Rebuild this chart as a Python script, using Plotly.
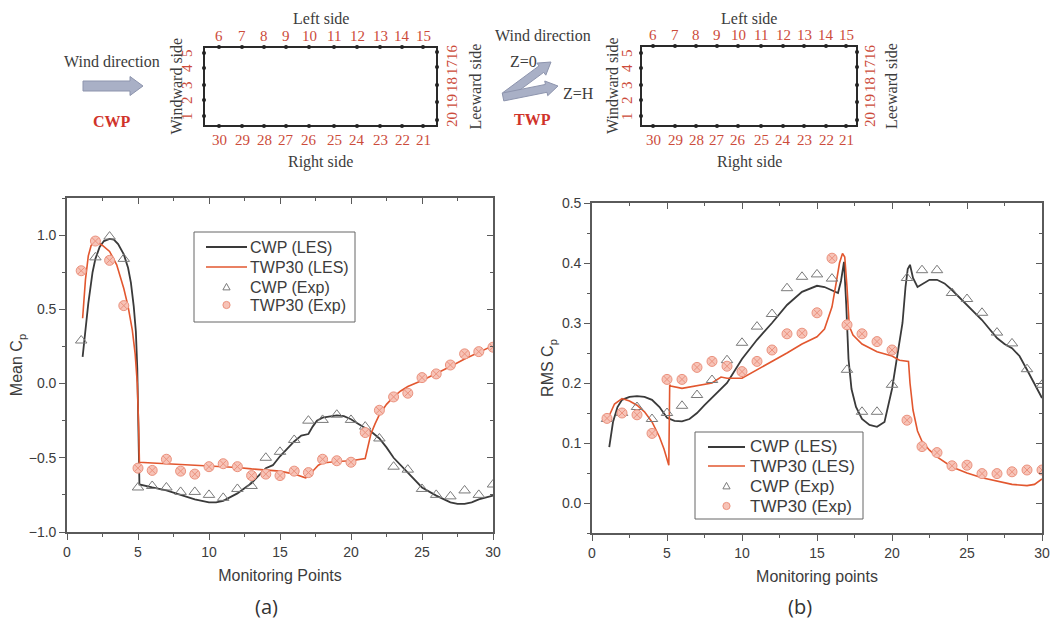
import math
import plotly.graph_objects as go

W, H = 1059, 625

# ---------------- data ----------------
pts = list(range(1, 31))

# (a) Mean Cp – experiments
cwp_exp_mean = [0.29, 0.85, 0.99, 0.84, -0.70, -0.69, -0.70, -0.73, -0.73, -0.75,
                -0.77, -0.71, -0.69, -0.50, -0.46, -0.38, -0.25, -0.245, -0.21, -0.245,
                -0.29, -0.37, -0.56, -0.58, -0.71, -0.75, -0.76, -0.72, -0.75, -0.68]
twp_exp_mean = [0.76, 0.96, 0.83, 0.525, -0.57, -0.585, -0.51, -0.59, -0.61, -0.56,
                -0.54, -0.56, -0.62, -0.61, -0.62, -0.59, -0.60, -0.51, -0.52, -0.53,
                -0.33, -0.18, -0.09, -0.065, 0.04, 0.065, 0.125, 0.20, 0.215, 0.245]

# (a) Mean Cp – LES
cwp_les_mean_x = [1.1, 1.3, 1.5, 1.8, 2.0, 2.3, 2.6, 3.0, 3.3, 3.6, 4.0, 4.3, 4.5, 4.7, 4.85,
                  4.95, 5.02, 5.1, 6, 7, 8, 9, 10, 10.5, 11, 12, 13, 13.5, 14, 14.5, 15,
                  15.5, 16, 16.5, 17, 17.3, 17.6, 18, 18.5, 19, 19.5, 20, 20.5, 21, 21.5,
                  22, 22.5, 23, 23.5, 24, 25, 26, 26.5, 27, 27.5, 28, 28.5, 29, 30]
cwp_les_mean_y = [0.18, 0.36, 0.54, 0.75, 0.84, 0.92, 0.96, 0.975, 0.97, 0.94, 0.87, 0.78,
                  0.68, 0.52, 0.35, 0.10, -0.40, -0.68, -0.70, -0.72, -0.75, -0.78, -0.80,
                  -0.80, -0.79, -0.74, -0.67, -0.62, -0.57, -0.55, -0.49, -0.44, -0.39,
                  -0.35, -0.34, -0.29, -0.25, -0.23, -0.22, -0.215, -0.22, -0.24, -0.27,
                  -0.30, -0.33, -0.37, -0.43, -0.50, -0.55, -0.60, -0.70, -0.755, -0.78,
                  -0.80, -0.81, -0.81, -0.80, -0.78, -0.755]
twp_les_mean_x = [1.1, 1.3, 1.5, 1.7, 1.9, 2.2, 2.5, 3.0, 3.5, 4.0, 4.3, 4.6, 4.8, 4.95,
                  5.05, 5.1, 6, 8, 10, 12, 13, 14, 15, 16, 16.5, 16.8, 17.1, 17.4, 17.7,
                  18, 19, 20, 21, 21.2, 21.4, 21.7, 22, 22.5, 23, 23.5, 24, 25, 26, 27,
                  28, 29, 29.5, 30]
twp_les_mean_y = [0.44, 0.70, 0.86, 0.93, 0.95, 0.95, 0.93, 0.89, 0.80, 0.64, 0.52, 0.36,
                  0.20, 0.00, -0.30, -0.53, -0.535, -0.545, -0.55, -0.565, -0.575, -0.58,
                  -0.59, -0.61, -0.625, -0.635, -0.62, -0.58, -0.55, -0.535, -0.525,
                  -0.52, -0.505, -0.42, -0.34, -0.27, -0.21, -0.14, -0.09, -0.05, -0.02,
                  0.02, 0.065, 0.115, 0.165, 0.21, 0.235, 0.255]

# (b) RMS Cp – experiments
cwp_exp_rms = [0.14, 0.15, 0.16, 0.14, 0.15, 0.162, 0.18, 0.205, 0.238, 0.267,
               0.294, 0.315, 0.358, 0.377, 0.381, 0.374, 0.222, 0.152, 0.152, 0.197,
               0.375, 0.388, 0.388, 0.35, 0.34, 0.317, 0.284, 0.266, 0.223, 0.197]
twp_exp_rms = [0.141, 0.15, 0.147, 0.116, 0.206, 0.206, 0.226, 0.236, 0.228, 0.219,
               0.236, 0.255, 0.282, 0.283, 0.317, 0.408, 0.297, 0.282, 0.269, 0.255,
               0.138, 0.094, 0.084, 0.062, 0.063, 0.049, 0.049, 0.052, 0.055, 0.055]

# (b) RMS Cp – LES
cwp_les_rms_x = [1.15, 1.4, 1.7, 2.0, 2.5, 3.0, 3.5, 4.0, 4.5, 5.0, 5.5, 6.0, 6.5, 7, 7.5,
                 8, 8.5, 9, 10, 11, 12, 13, 14, 14.5, 15, 15.5, 16, 16.4, 16.6, 16.8,
                 16.95, 17.1, 17.3, 17.6, 18, 18.5, 19, 19.5, 20, 20.4, 20.7, 20.9, 21.05,
                 21.2, 21.4, 21.7, 22, 22.5, 23, 23.5, 24, 25, 26, 27, 27.5, 28, 28.5, 29,
                 29.5, 30]
cwp_les_rms_y = [0.093, 0.135, 0.16, 0.172, 0.177, 0.178, 0.177, 0.172, 0.16, 0.142, 0.137,
                 0.136, 0.14, 0.15, 0.163, 0.175, 0.187, 0.2, 0.24, 0.272, 0.30, 0.33,
                 0.352, 0.357, 0.362, 0.36, 0.355, 0.35, 0.37, 0.402, 0.33, 0.24, 0.19,
                 0.16, 0.14, 0.13, 0.127, 0.135, 0.19, 0.25, 0.30, 0.36, 0.39, 0.397,
                 0.375, 0.36, 0.365, 0.372, 0.372, 0.366, 0.355, 0.33, 0.305, 0.275,
                 0.265, 0.258, 0.245, 0.222, 0.198, 0.175]
twp_les_rms_x = [1.05, 1.5, 2.0, 2.5, 3.0, 3.5, 4.0, 4.5, 4.8, 5.0, 5.12, 5.18, 5.25, 6, 7,
                 8, 8.6, 9, 10, 11, 12, 13, 14, 15, 15.5, 16, 16.3, 16.5, 16.7, 16.85,
                 17.0, 17.15, 17.4, 18, 19, 20, 20.5, 21.0, 21.1, 21.2, 21.4, 21.7, 22,
                 22.5, 23, 24, 25, 26, 27, 28, 29, 29.5, 30]
twp_les_rms_y = [0.14, 0.165, 0.174, 0.17, 0.163, 0.152, 0.135, 0.11, 0.09, 0.072, 0.063,
                 0.197, 0.195, 0.191, 0.195, 0.20, 0.21, 0.208, 0.208, 0.222, 0.235, 0.25,
                 0.265, 0.277, 0.29, 0.327, 0.37, 0.40, 0.416, 0.41, 0.36, 0.295, 0.28,
                 0.265, 0.252, 0.245, 0.238, 0.236, 0.236, 0.20, 0.155, 0.12, 0.103,
                 0.088, 0.077, 0.06, 0.05, 0.042, 0.036, 0.031, 0.029, 0.031, 0.04]

series_names = ["CWP (LES)", "TWP30 (LES)", "CWP (Exp)", "TWP30 (Exp)"]

# diagram labels
top_nums = ["6", "7", "8", "9", "10", "11", "12", "13", "14", "15"]
bottom_nums = ["30", "29", "28", "27", "26", "25", "24", "23", "22", "21"]
left_nums = ["1", "2", "3", "4", "5"]
right_nums = ["20", "19", "18", "17", "16"]

# ---------------- styles ----------------
BLACK_LINE = "#3a3a3a"
RED_LINE = "#e2572f"
TRI_COL = "#7a7a7a"
CIRC_FILL = "#f7c3b7"
CIRC_LINE = "#eb927e"
AX_COL = "#5a5a5a"
TXT_COL = "#3c3c3c"
NUM_RED = "#cc4b3a"
SANS = "Liberation Sans, Arial, sans-serif"
SERIF = "Liberation Serif, Times New Roman, serif"

fig = go.Figure()


def add_panel(xa, ya, les_c, les_t, exp_c, exp_t):
    fig.add_trace(go.Scatter(x=les_c[0], y=les_c[1], mode="lines", name=series_names[0],
                             line=dict(color=BLACK_LINE, width=1.8), xaxis=xa, yaxis=ya,
                             showlegend=False))
    fig.add_trace(go.Scatter(x=les_t[0], y=les_t[1], mode="lines", name=series_names[1],
                             line=dict(color=RED_LINE, width=1.6), xaxis=xa, yaxis=ya,
                             showlegend=False))
    fig.add_trace(go.Scatter(x=pts, y=exp_c, mode="markers", name=series_names[2],
                             marker=dict(symbol="triangle-up-open", size=10, color=TRI_COL,
                                         line=dict(width=1, color=TRI_COL)),
                             xaxis=xa, yaxis=ya, showlegend=False))
    fig.add_trace(go.Scatter(x=pts, y=exp_t, mode="markers", name=series_names[3],
                             marker=dict(symbol="circle-x", size=10, color=CIRC_FILL,
                                         line=dict(width=1, color=CIRC_LINE)),
                             xaxis=xa, yaxis=ya, showlegend=False))


add_panel("x", "y", (cwp_les_mean_x, cwp_les_mean_y), (twp_les_mean_x, twp_les_mean_y),
          cwp_exp_mean, twp_exp_mean)
add_panel("x2", "y2", (cwp_les_rms_x, cwp_les_rms_y), (twp_les_rms_x, twp_les_rms_y),
          cwp_exp_rms, twp_exp_rms)

# dummy traces for mirrored (inside) tick axes
for xa, ya in (("x3", "y3"), ("x4", "y4")):
    fig.add_trace(go.Scatter(x=[None], y=[None], xaxis=xa, yaxis=ya, showlegend=False,
                             hoverinfo="skip"))


def px(x):
    return x / W


def py(y):
    return 1 - y / H


# plot domains (pixels)
A_L, A_R, A_T, A_B = 67, 493, 198, 532
B_L, B_R, B_T, B_B = 592, 1042, 203, 533

tickfont = dict(family=SANS, size=14, color=TXT_COL)
titlefont = dict(family=SANS, size=16, color=TXT_COL)


def base_axis(dom, rng, dtick, mdtick, title, anchor):
    return dict(domain=dom, range=rng, dtick=dtick, tick0=0, anchor=anchor, automargin=False,
                showline=True, linecolor=AX_COL, linewidth=1.6, ticks="outside",
                ticklen=6, tickwidth=1.4, tickcolor=AX_COL, showgrid=False, zeroline=False,
                tickfont=tickfont, title=dict(text=title, font=titlefont),
                minor=dict(dtick=mdtick, tick0=0, ticks="outside", ticklen=3,
                           tickcolor=AX_COL, tickwidth=1.2),
                fixedrange=True)


def mirror_axis(dom, rng, dtick, mdtick, over, side, anchor):
    return dict(domain=dom, range=rng, dtick=dtick, tick0=0, overlaying=over, side=side,
                anchor=anchor, automargin=False, showline=True, linecolor=AX_COL,
                linewidth=1.6, ticks="inside", ticklen=6, tickwidth=1.4, tickcolor=AX_COL,
                showticklabels=False, showgrid=False, zeroline=False,
                minor=dict(dtick=mdtick, tick0=0, ticks="inside", ticklen=3,
                           tickcolor=AX_COL, tickwidth=1.2),
                fixedrange=True)


xa_dom = [px(A_L), px(A_R)]
ya_dom = [py(A_B), py(A_T)]
xb_dom = [px(B_L), px(B_R)]
yb_dom = [py(B_B), py(B_T)]

fig.update_layout(
    xaxis=base_axis(xa_dom, [0, 30], 5, 2.5, "Monitoring Points", "y"),
    yaxis=base_axis(ya_dom, [-1.0, 1.25], 0.5, 0.25, "Mean C<sub>p</sub>", "x"),
    xaxis2=base_axis(xb_dom, [0, 30], 5, 2.5, "Monitoring points", "y2"),
    yaxis2=base_axis(yb_dom, [-0.05, 0.5], 0.1, 0.05, "RMS C<sub>p</sub>", "x2"),
    xaxis3=mirror_axis(xa_dom, [0, 30], 5, 2.5, "x", "top", "y3"),
    yaxis3=mirror_axis(ya_dom, [-1.0, 1.25], 0.5, 0.25, "y", "right", "x3"),
    xaxis4=mirror_axis(xb_dom, [0, 30], 5, 2.5, "x2", "top", "y4"),
    yaxis4=mirror_axis(yb_dom, [-0.05, 0.5], 0.1, 0.05, "y2", "right", "x4"),
)
fig.layout.yaxis.tickformat = ".1f"
fig.layout.yaxis2.tickformat = ".1f"
fig.layout.xaxis.title.standoff = 11
fig.layout.xaxis2.title.standoff = 11
fig.layout.yaxis.title.standoff = 2
fig.layout.yaxis2.title.standoff = 4

shapes = []
annots = []


def text(x, y, s, size=16, color=TXT_COL, family=SERIF, angle=0, bold=False, anchor="center"):
    if bold:
        s = "<b>" + s + "</b>"
    annots.append(dict(x=px(x), y=py(y), xref="paper", yref="paper", text=s, showarrow=False,
                       xanchor=anchor, yanchor="middle", textangle=angle,
                       font=dict(family=family, size=size, color=color)))


def dot(x, y, r, fill, line_col=None, lw=0):
    shapes.append(dict(type="circle", xref="paper", yref="paper", x0=px(x - r),
                       x1=px(x + r), y0=py(y + r), y1=py(y - r), fillcolor=fill,
                       line=dict(width=lw, color=line_col or fill)))


def poly(points, fill, line_col, lw=1):
    path = "M " + " L ".join(f"{px(a):.5f},{py(b):.5f}" for a, b in points) + " Z"
    shapes.append(dict(type="path", path=path, xref="paper", yref="paper",
                       fillcolor=fill, line=dict(color=line_col, width=lw)))


def block_arrow(x0, y0, x1, y1, shaft=9, head=18, headlen=13):
    dx, dy = x1 - x0, y1 - y0
    L = math.hypot(dx, dy)
    ux, uy = dx / L, dy / L
    nx, ny = -uy, ux
    bx, by = x1 - ux * headlen, y1 - uy * headlen
    p = [(x0 + nx * shaft / 2, y0 + ny * shaft / 2), (bx + nx * shaft / 2, by + ny * shaft / 2),
         (bx + nx * head / 2, by + ny * head / 2), (x1, y1),
         (bx - nx * head / 2, by - ny * head / 2), (bx - nx * shaft / 2, by - ny * shaft / 2),
         (x0 - nx * shaft / 2, y0 - ny * shaft / 2)]
    poly(p, "#a9b0c6", "#8d94ad")


def building(left, right, top, bottom, top_x, left_y, right_y, num_left_x, num_right_x,
             side_left_x, side_right_x):
    shapes.append(dict(type="rect", xref="paper", yref="paper", x0=px(left), x1=px(right),
                       y0=py(bottom), y1=py(top), line=dict(color="#2a2a2a", width=2)))
    for i, xx in enumerate(top_x):
        dot(xx, top, 2, "#222")
        dot(xx, bottom, 2, "#222")
        text(xx, top - 11, top_nums[i], size=15, color=NUM_RED)
        text(xx, bottom + 14, bottom_nums[i], size=15, color=NUM_RED)
    for i, yy in enumerate(left_y):
        dot(left, yy, 2, "#222")
        text(num_left_x, yy, left_nums[i], size=15, color=NUM_RED, angle=-90)
    for i, yy in enumerate(right_y):
        dot(right, yy, 2, "#222")
        text(num_right_x, yy, right_nums[i], size=15, color=NUM_RED, angle=-90)
    cx = (left + right) / 2
    text(cx, top - 28, "Left side", size=16)
    text(cx, bottom + 36, "Right side", size=16)
    text(side_left_x, (top + bottom) / 2, "Windward side", size=16, angle=-90)
    text(side_right_x, (top + bottom) / 2, "Leeward side", size=16, angle=-90)


def legend_box(x0, y0, x1, y1, lx0, lx1, tx, ys, fsize):
    shapes.append(dict(type="rect", xref="paper", yref="paper", x0=px(x0), x1=px(x1),
                       y0=py(y1), y1=py(y0), fillcolor="white",
                       line=dict(color="#666", width=1), layer="above"))
    mx = (lx0 + lx1) / 2
    shapes.append(dict(type="line", xref="paper", yref="paper", x0=px(lx0), x1=px(lx1),
                       y0=py(ys[0]), y1=py(ys[0]), line=dict(color=BLACK_LINE, width=1.8)))
    shapes.append(dict(type="line", xref="paper", yref="paper", x0=px(lx0), x1=px(lx1),
                       y0=py(ys[1]), y1=py(ys[1]), line=dict(color=RED_LINE, width=1.6)))
    s = 3.6
    poly([(mx - s, ys[2] + s * 0.8), (mx + s, ys[2] + s * 0.8), (mx, ys[2] - s)],
         "rgba(0,0,0,0)", TRI_COL, 1)
    dot(mx, ys[3], 3.6, CIRC_FILL, CIRC_LINE, 1)
    for name, yy in zip(series_names, ys):
        text(tx, yy, name, size=fsize, color=TXT_COL, family=SANS, anchor="left")


# CWP diagram
text(112, 62, "Wind direction", size=16)
block_arrow(83, 86, 143, 86, shaft=10, head=19, headlen=13)
text(112, 121, "CWP", size=16, color="#d0332a", bold=True)
building(204, 437, 47, 126,
         [219, 242, 264, 286, 309, 334, 357, 380, 402, 423],
         [116, 100, 85, 68, 53], [120, 102, 85, 67, 52],
         187, 452, 176, 475)

# TWP diagram
text(543, 35, "Wind direction", size=16)
block_arrow(505, 96, 551, 62, shaft=8, head=15, headlen=12)
block_arrow(503, 97, 558, 86, shaft=8, head=15, headlen=12)
text(523, 62, "Z=0", size=16)
text(578, 94, "Z=H", size=16)
text(532, 120, "TWP", size=16, color="#d0332a", bold=True)
building(641, 857, 46, 126,
         [653, 675, 696, 717, 738, 761, 783, 804, 826, 846],
         [116, 100, 85, 68, 53], [120, 102, 85, 67, 52],
         627, 870, 613, 892)

# legends (drawn as decorations)
legend_box(194, 232, 355, 322, 206, 247, 248, [247, 267, 287, 305], 16)
legend_box(695, 432, 863, 519, 708, 745, 748, [447, 466, 486, 506], 17)

# panel captions
text(266, 606, "(a)", size=20, color="#333", family="Open Sans, sans-serif")
text(800, 606, "(b)", size=20, color="#333", family="Open Sans, sans-serif")

fig.update_layout(
    shapes=shapes, annotations=annots,
    width=W, height=H, margin=dict(l=0, r=0, t=0, b=0),
    paper_bgcolor="white", plot_bgcolor="rgba(0,0,0,0)",
    showlegend=False,
)

fig.write_html("out.html")
